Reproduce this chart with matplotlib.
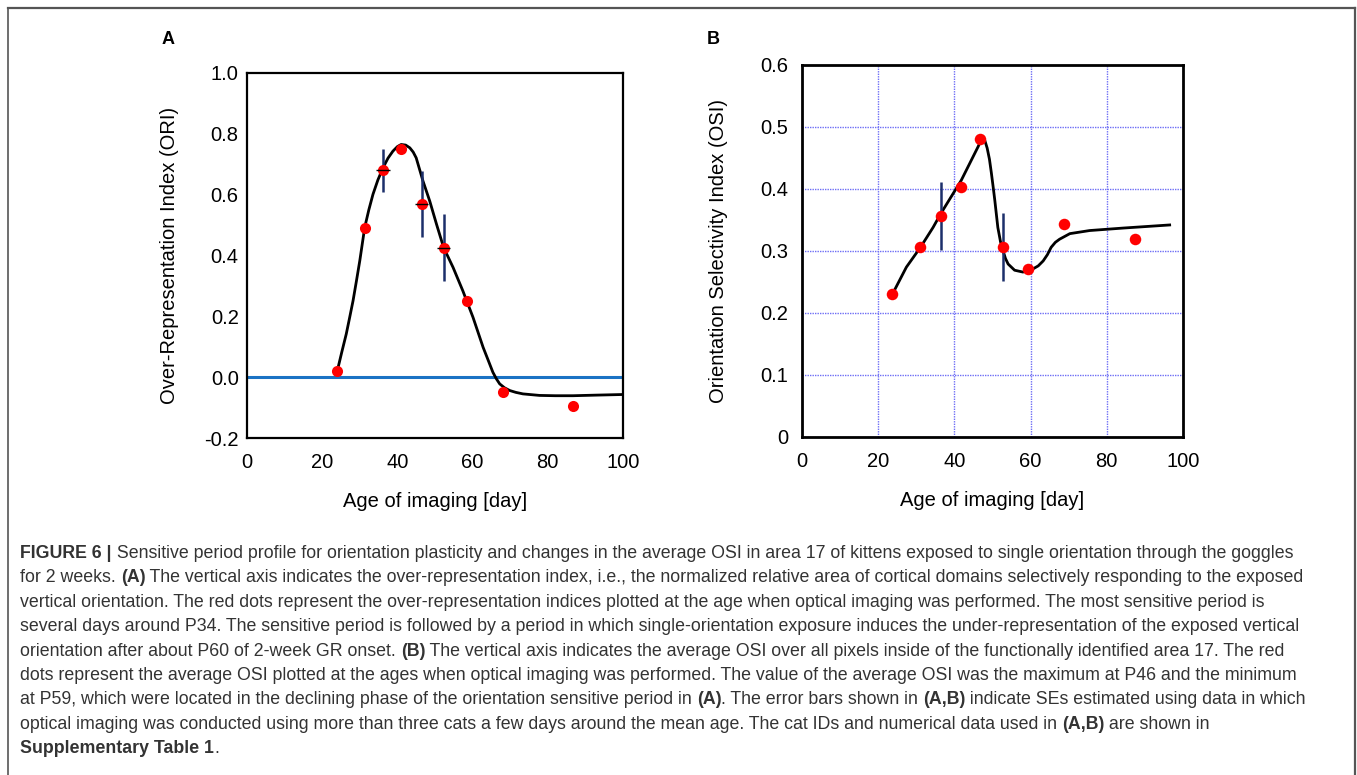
import matplotlib
matplotlib.use("Agg")
import matplotlib.pyplot as plt
from matplotlib.lines import Line2D
from matplotlib.text import Annotation

plt.rcParams['font.family'] = ['Liberation Sans', 'DejaVu Sans']

# ---- panel A data ----
ori_age = [24.0, 31.3, 36.2, 40.9, 46.5, 52.3, 58.6, 68.1, 86.7]
ori_val = [0.02, 0.49, 0.68, 0.75, 0.57, 0.425, 0.25, -0.05, -0.095]
ori_err_age = [36.2, 46.5, 52.3]
ori_err_val = [0.68, 0.57, 0.425]
ori_err_y = [0.07, 0.108, 0.11]
ori_err_x = [1.9, 1.7, 1.7]

ori_fit_age = [24.0, 25.2, 26.4, 27.3, 28.2, 29.1, 30.0, 31.3, 32.4, 33.5, 34.8, 36.2,
               37.5, 38.8, 40.0, 41.0, 42.2, 43.3, 44.2, 45.0, 46.8, 48.6, 50.4, 52.3,
               54.8, 57.4, 60.1, 62.8, 64.2, 65.4, 66.3, 67.2, 68.5, 69.9, 71.5, 73.4,
               77.8, 82.0, 86.7, 93.0, 100.0]
ori_fit_val = [0.02, 0.082, 0.142, 0.196, 0.251, 0.316, 0.383, 0.492, 0.550, 0.601,
               0.648, 0.689, 0.720, 0.743, 0.758, 0.765, 0.763, 0.754, 0.740, 0.721,
               0.645, 0.579, 0.503, 0.426, 0.361, 0.284, 0.197, 0.098, 0.054, 0.016,
               -0.005, -0.022, -0.035, -0.044, -0.050, -0.055, -0.060, -0.061, -0.061,
               -0.059, -0.057]

# ---- panel B data ----
osi_age = [23.7, 31.1, 36.4, 41.8, 46.6, 52.8, 59.3, 68.8, 87.3]
osi_val = [0.230, 0.307, 0.356, 0.403, 0.480, 0.307, 0.271, 0.344, 0.319]
osi_err_age = [36.4, 52.8]
osi_err_val = [0.356, 0.307]
osi_err_y = [0.055, 0.055]

osi_fit_age = [23.7, 27.4, 31.1, 34.4, 36.4, 39.6, 41.8, 44.0, 46.2, 47.2, 48.0,
               48.6, 49.2, 49.7, 50.2, 50.6, 51.0, 51.4, 52.1, 52.8, 53.4, 54.1,
               55.8, 58.0, 60.6, 62.0, 63.3, 64.4, 65.4, 66.5, 67.6, 70.3, 75.5,
               84.3, 96.5]
osi_fit_val = [0.230, 0.274, 0.306, 0.338, 0.360, 0.392, 0.414, 0.441, 0.468, 0.481,
               0.478, 0.466, 0.448, 0.426, 0.402, 0.382, 0.360, 0.338, 0.315, 0.300,
               0.288, 0.279, 0.269, 0.266, 0.271, 0.276, 0.284, 0.294, 0.306, 0.314,
               0.319, 0.328, 0.333, 0.337, 0.342]

xticks = [0, 20, 40, 60, 80, 100]

fig = plt.figure(figsize=(13.57, 7.75), dpi=100)
W, H = 1357.0, 775.0

def px_axes(l, t, r, b):
    return fig.add_axes([l / W, 1 - b / H, (r - l) / W, (b - t) / H])

tick_fs = 14.5
lab_fs = 14.5

# ---------------- panel A ----------------
axA = px_axes(247, 73, 623, 438)
axA.axhline(0, color='#1a72c4', lw=2.2, zorder=1)
axA.plot(ori_fit_age, ori_fit_val, color='black', lw=2.0, zorder=2)
axA.errorbar(ori_err_age, ori_err_val, yerr=ori_err_y, fmt='none',
             ecolor='#1c2f6b', elinewidth=1.8, capsize=0, zorder=3)
axA.plot(ori_age, ori_val, 'o', color='#ff0000', ms=8, mec='none', zorder=4)
axA.errorbar(ori_err_age, ori_err_val, xerr=ori_err_x, fmt='none',
             ecolor='black', elinewidth=1.0, capsize=0, zorder=5)
axA.set_xlim(0, 100)
axA.set_ylim(-0.2, 1.0)
axA.set_xticks(xticks)
axA.set_yticks([-0.2, 0.0, 0.2, 0.4, 0.6, 0.8, 1.0])
axA.set_yticklabels(['-0.2', '0.0', '0.2', '0.4', '0.6', '0.8', '1.0'])
axA.tick_params(length=0, labelsize=tick_fs, pad=6)
axA.tick_params(axis='x', pad=11)
for s in axA.spines.values():
    s.set_linewidth(1.6)
axA.set_xlabel('Age of imaging [day]', fontsize=lab_fs, labelpad=14)
axA.set_ylabel('Over-Representation Index (ORI)', fontsize=lab_fs, labelpad=18)

# ---------------- panel B ----------------
axB = px_axes(802, 65, 1183, 437)
axB.grid(True, color='#6f6ff5', lw=1.0, ls=(0, (1, 0.8)))
axB.set_axisbelow(True)
axB.plot(osi_fit_age, osi_fit_val, color='black', lw=2.0, zorder=2)
axB.errorbar(osi_err_age, osi_err_val, yerr=osi_err_y, fmt='none',
             ecolor='#1c2f6b', elinewidth=1.8, capsize=0, zorder=3)
axB.plot(osi_age, osi_val, 'o', color='#ff0000', ms=8.3, mec='none', zorder=4)
axB.set_xlim(0, 100)
axB.set_ylim(0, 0.6)
axB.set_xticks(xticks)
axB.set_yticks([0, 0.1, 0.2, 0.3, 0.4, 0.5, 0.6])
axB.set_yticklabels(['0', '0.1', '0.2', '0.3', '0.4', '0.5', '0.6'])
axB.tick_params(length=0, labelsize=tick_fs, pad=10)
axB.tick_params(axis='x', pad=11)
for s in axB.spines.values():
    s.set_linewidth(2.0)
axB.set_xlabel('Age of imaging [day]', fontsize=lab_fs, labelpad=14)
axB.set_ylabel('Orientation Selectivity Index (OSI)', fontsize=lab_fs, labelpad=23)

fig.text(168 / W, 1 - 40 / H, 'A', fontsize=13, fontweight='bold', ha='center', va='center')
fig.text(713 / W, 1 - 40 / H, 'B', fontsize=13, fontweight='bold', ha='center', va='center')

# ---------------- outer frame ----------------
fc = '#555555'
fig.add_artist(Line2D([8 / W, 8 / W], [0, 1 - 8 / H], transform=fig.transFigure, color=fc, lw=1.2))
fig.add_artist(Line2D([8 / W, 1355 / W], [1 - 8 / H, 1 - 8 / H], transform=fig.transFigure, color=fc, lw=1.6))
fig.add_artist(Line2D([1355 / W, 1355 / W], [0, 1 - 8 / H], transform=fig.transFigure, color=fc, lw=1.6))

# ---------------- caption ----------------
caption = [
    [("FIGURE 6 |", True), (" Sensitive period profile for orientation plasticity and changes in the average OSI in area 17 of kittens exposed to single orientation through the goggles", False)],
    [("for 2 weeks. ", False), ("(A)", True), (" The vertical axis indicates the over-representation index, i.e., the normalized relative area of cortical domains selectively responding to the exposed", False)],
    [("vertical orientation. The red dots represent the over-representation indices plotted at the age when optical imaging was performed. The most sensitive period is", False)],
    [("several days around P34. The sensitive period is followed by a period in which single-orientation exposure induces the under-representation of the exposed vertical", False)],
    [("orientation after about P60 of 2-week GR onset. ", False), ("(B)", True), (" The vertical axis indicates the average OSI over all pixels inside of the functionally identified area 17. The red", False)],
    [("dots represent the average OSI plotted at the ages when optical imaging was performed. The value of the average OSI was the maximum at P46 and the minimum", False)],
    [("at P59, which were located in the declining phase of the orientation sensitive period in ", False), ("(A)", True), (". The error bars shown in ", False), ("(A,B)", True), (" indicate SEs estimated using data in which", False)],
    [("optical imaging was conducted using more than three cats a few days around the mean age. The cat IDs and numerical data used in ", False), ("(A,B)", True), (" are shown in", False)],
    [("Supplementary Table 1", True), (".", False)],
]
cap_fs = 12.8
y0 = 553
dy = 24.4
for i, line in enumerate(caption):
    prev = None
    for seg, bold in line:
        kw = dict(fontsize=cap_fs, color='#333333',
                  fontweight='bold' if bold else 'normal', va='baseline', ha='left')
        if prev is None:
            prev = fig.text(20 / W, 1 - (y0 + i * dy + 5) / H, seg, **kw)
        else:
            ann = Annotation(seg, xy=(1, 0), xycoords=prev, xytext=(0, 0),
                             textcoords='offset points', **kw)
            ann.set_va('bottom')
            fig.add_artist(ann)
            prev = ann

fig.savefig('out.png', dpi=100)
